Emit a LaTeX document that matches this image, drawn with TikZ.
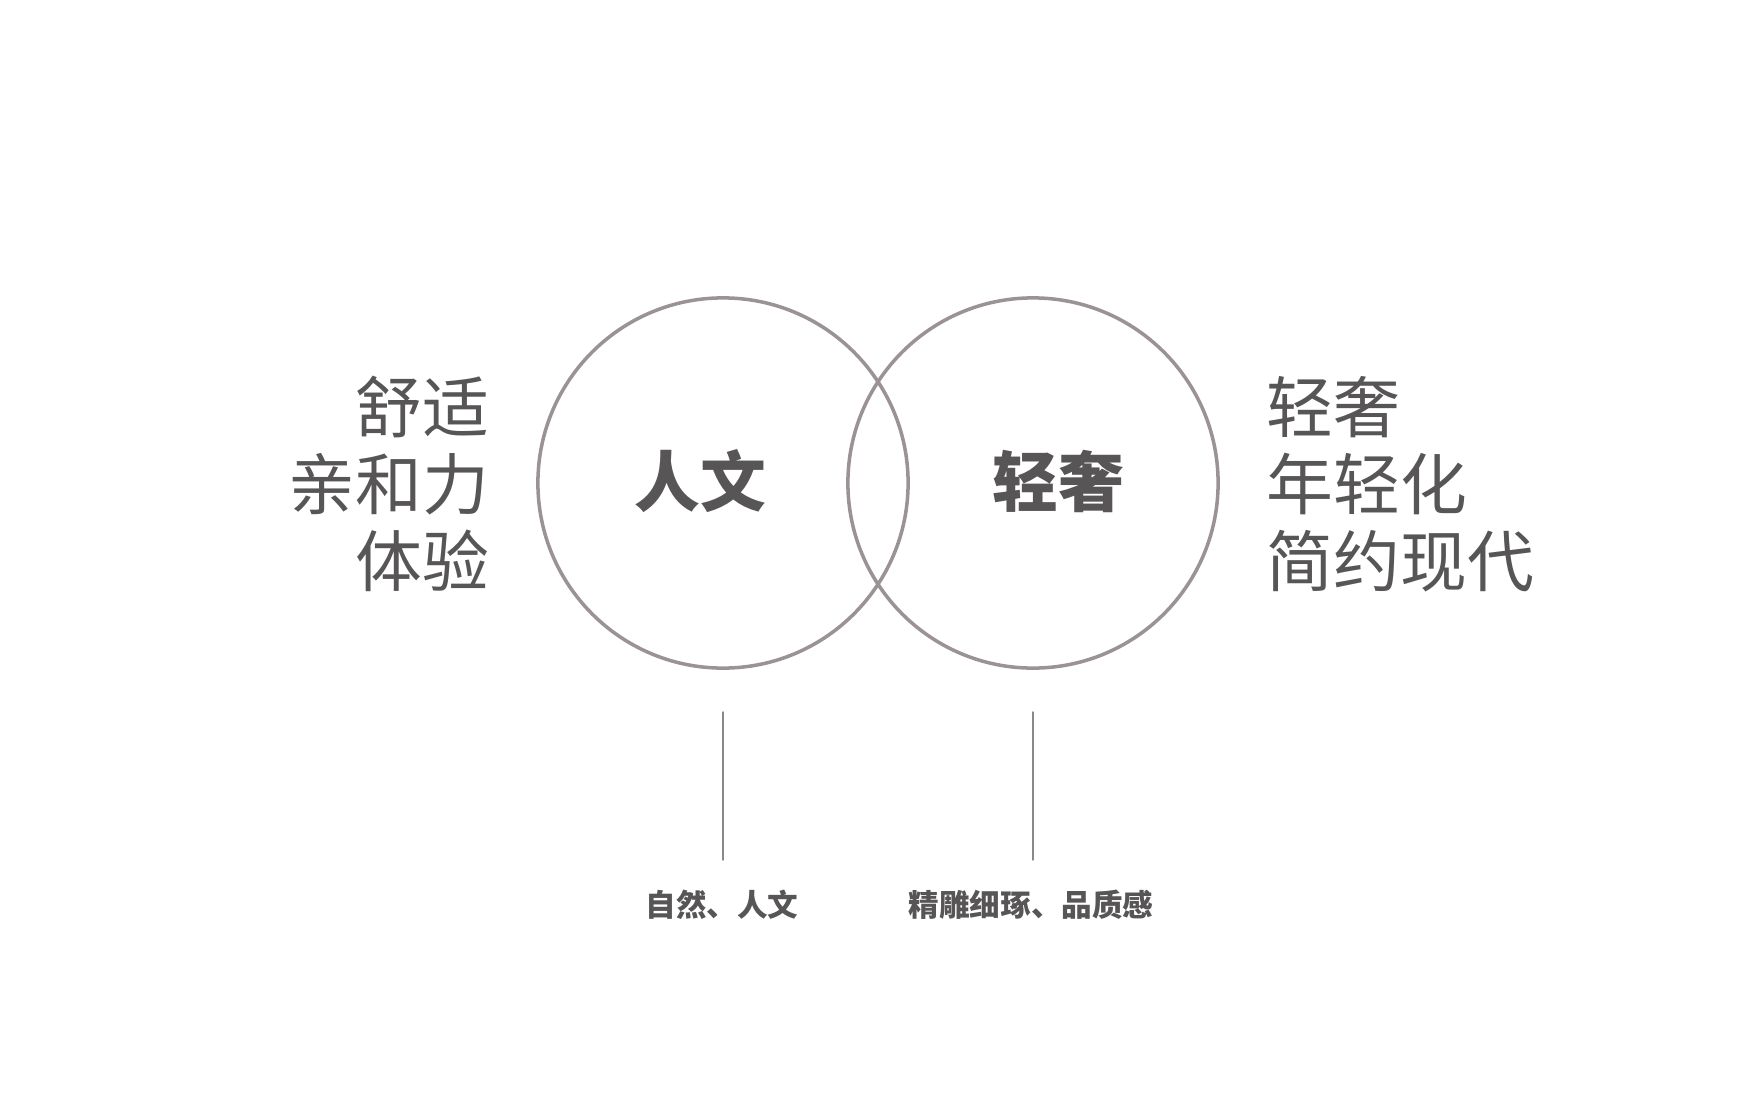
\documentclass[tikz,border=0pt]{standalone}
\usepackage{fontspec}
\setmainfont{Noto Sans CJK SC}
\usepackage{xcolor}
\usetikzlibrary{positioning}
\definecolor{RingGray}{HTML}{9B9393}
\definecolor{TextGray}{HTML}{575555}
\definecolor{StemGray}{HTML}{8C8888}
\newcommand{\MainColor}{TextGray}

\tikzset{
  ring/.style={circle,draw=RingGray,line width=1pt,minimum size=3.70cm,inner sep=0pt},
  sidetext/.style={inner sep=0pt,color=\MainColor,font=\fontsize{19pt}{21.9pt}\selectfont},
  coretext/.style={inner sep=0pt,color=\MainColor,font=\fontsize{18.7pt}{22pt}\selectfont\bfseries},
  notetext/.style={inner sep=0pt,color=\MainColor,font=\fontsize{8.7pt}{10pt}\selectfont\bfseries},
  stem/.style={draw=StemGray,line width=0.4pt}
}

\begin{document}
\begin{tikzpicture}[line cap=round,line join=round,x=0.01cm,y=-0.01cm]
  \useasboundingbox (0,0) rectangle (1755,1097);
  % circles
  \node[ring] (renwen) at (723,483) {};
  \node[ring] (qingshe) at (1033,483) {};
  \node[coretext] (renwenlab) at (700,481) {人文};
  \node[coretext] (qingshelab) at (1058,481) {轻奢};
  % side lists
  \node[sidetext,anchor=east,align=right] (leftlist) at (490,484) {舒适\\亲和力\\体验};
  \node[sidetext,anchor=west,align=left] (rightlist) at (1266,484) {轻奢\\年轻化\\简约现代};
  % notes below
  \node[notetext] (renwennote) at (722,905) {自然、人文};
  \node[notetext] (qingshenote) at (1031,905) {精雕细琢、品质感};
  \coordinate (renwentop) at (723,712);
  \coordinate (renwenbot) at (723,860);
  \coordinate (qingshetop) at (1033,712);
  \coordinate (qingshebot) at (1033,860);
  \draw[stem] (renwentop) -- (renwenbot);
  \draw[stem] (qingshetop) -- (qingshebot);
\end{tikzpicture}
\end{document}
